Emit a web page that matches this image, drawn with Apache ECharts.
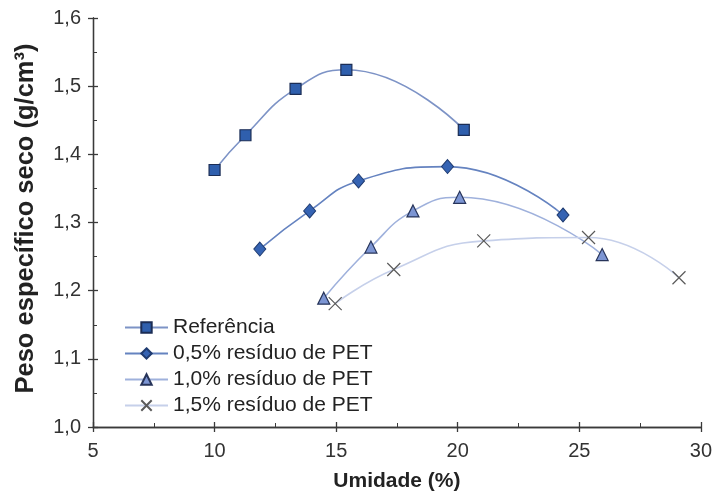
<!DOCTYPE html>
<html>
<head>
<meta charset="utf-8">
<script src="https://cdn.jsdelivr.net/npm/echarts@6/dist/echarts.min.js"></script>
<style>html,body{margin:0;padding:0;background:#fff}#c{width:715px;height:497px}</style>
</head>
<body>
<div id="c"></div>
<script>
var seriesNames = ['Referência', '0,5% resíduo de PET', '1,0% resíduo de PET', '1,5% resíduo de PET'];
var refX = [10.0, 11.27, 13.33, 15.42, 20.25];
var refY = [1.377, 1.428, 1.496, 1.524, 1.436];
var p05X = [11.86, 13.91, 15.92, 19.58, 24.33];
var p05Y = [1.261, 1.317, 1.361, 1.382, 1.311];
var p10X = [14.49, 16.43, 18.16, 20.08, 25.94];
var p10Y = [1.189, 1.264, 1.317, 1.337, 1.253];
var p15X = [14.96, 17.37, 21.07, 25.38, 29.1];
var p15Y = [1.181, 1.231, 1.273, 1.278, 1.219];
var xTicks = [5, 10, 15, 20, 25, 30];
var yTicks = [1.0, 1.1, 1.2, 1.3, 1.4, 1.5, 1.6];

function pairs(xs, ys) { return xs.map(function (x, i) { return [x, ys[i]]; }); }
var FONT = '"Liberation Sans", Arial, sans-serif';
var AX = '#3a3a3a';
var crossPath = 'path://M0,0L10,10M10,0L0,10';

var chart = echarts.init(document.getElementById('c'), null, {renderer: 'canvas'});
function fmt(v) { return v.toFixed(1).replace('.', ','); }
var xBase = {
  type: 'value', min: xTicks[0], max: xTicks[xTicks.length - 1], interval: 5,
  axisLine: {show: true, onZero: false, lineStyle: {color: AX, width: 1.3}},
  splitLine: {show: false}
};
var yBase = {
  type: 'value', min: yTicks[0], max: yTicks[yTicks.length - 1], interval: 0.1,
  axisLine: {show: true, onZero: false, lineStyle: {color: AX, width: 1.3}},
  splitLine: {show: false}
};
var option = {
  animation: false,
  backgroundColor: '#fff',
  grid: {left: 93, right: 11, top: 18, bottom: 67, containLabel: false},
  xAxis: [
    Object.assign({}, xBase, {
      position: 'bottom',
      name: 'Umidade (%)', nameLocation: 'middle', nameGap: 44,
      nameTextStyle: {fontFamily: FONT, fontSize: 21, fontWeight: 'bold', color: '#222'},
      axisTick: {show: true, inside: false, length: 5, lineStyle: {color: AX, width: 1.3}},
      minorTick: {show: false},
      axisLabel: {fontFamily: FONT, fontSize: 20, color: '#333', margin: 14, formatter: function (v) { return String(v); }}
    }),
    Object.assign({}, xBase, {
      position: 'bottom', gridIndex: 0,
      axisTick: {show: true, inside: true, length: 5, lineStyle: {color: AX, width: 1.3}},
      minorTick: {show: true, splitNumber: 2, length: 4, lineStyle: {color: AX, width: 1}},
      axisLabel: {show: false}
    })
  ],
  yAxis: [
    Object.assign({}, yBase, {
      position: 'left',
      name: 'Peso específico seco (g/cm³)', nameLocation: 'middle', nameGap: 54, nameRotate: 90,
      nameTextStyle: {fontFamily: FONT, fontSize: 25.5, fontWeight: 'bold', color: '#222', padding: [0, 0, 0, 8]},
      axisTick: {show: true, inside: false, length: 5, lineStyle: {color: AX, width: 1.3}},
      minorTick: {show: false},
      axisLabel: {fontFamily: FONT, fontSize: 20, color: '#333', margin: 12, formatter: fmt}
    }),
    Object.assign({}, yBase, {
      position: 'left', offset: 0,
      axisTick: {show: true, inside: true, length: 5, lineStyle: {color: AX, width: 1.3}},
      minorTick: {show: true, splitNumber: 2, length: 4, lineStyle: {color: AX, width: 1}},
      axisLabel: {show: false}
    })
  ],
  legend: {
    orient: 'vertical', left: 124, top: 317, padding: 0,
    itemWidth: 43, itemHeight: 13, itemGap: 5,
    textStyle: {fontFamily: FONT, fontSize: 21, lineHeight: 20, color: '#222'},
    data: seriesNames
  },
  series: [
    {
      name: seriesNames[0], type: 'line', smooth: 0.5, data: pairs(refX, refY),
      symbol: 'rect', symbolSize: 11,
      lineStyle: {color: '#7d93c6', width: 1.6},
      itemStyle: {color: '#2f5fad', borderColor: '#1b2d55', borderWidth: 1.2}
    },
    {
      name: seriesNames[1], type: 'line', smooth: 0.5, data: pairs(p05X, p05Y),
      symbol: 'diamond', symbolSize: [12, 14],
      lineStyle: {color: '#6583c0', width: 1.6},
      itemStyle: {color: '#3563b3', borderColor: '#1f3b70', borderWidth: 1}
    },
    {
      name: seriesNames[2], type: 'line', smooth: 0.5, data: pairs(p10X, p10Y),
      symbol: 'triangle', symbolSize: [12, 12],
      lineStyle: {color: '#9fb1dc', width: 1.6},
      itemStyle: {color: '#7c95d3', borderColor: '#27345a', borderWidth: 1.2}
    },
    {
      name: seriesNames[3], type: 'line', smooth: 0.5, data: pairs(p15X, p15Y),
      symbol: crossPath, symbolSize: 13,
      lineStyle: {color: '#c6d0ea', width: 1.6},
      itemStyle: {color: 'rgba(0,0,0,0)', borderColor: '#5a5a5a', borderWidth: 1.2}
    }
  ]
};
chart.setOption(option);
</script>
</body>
</html>
